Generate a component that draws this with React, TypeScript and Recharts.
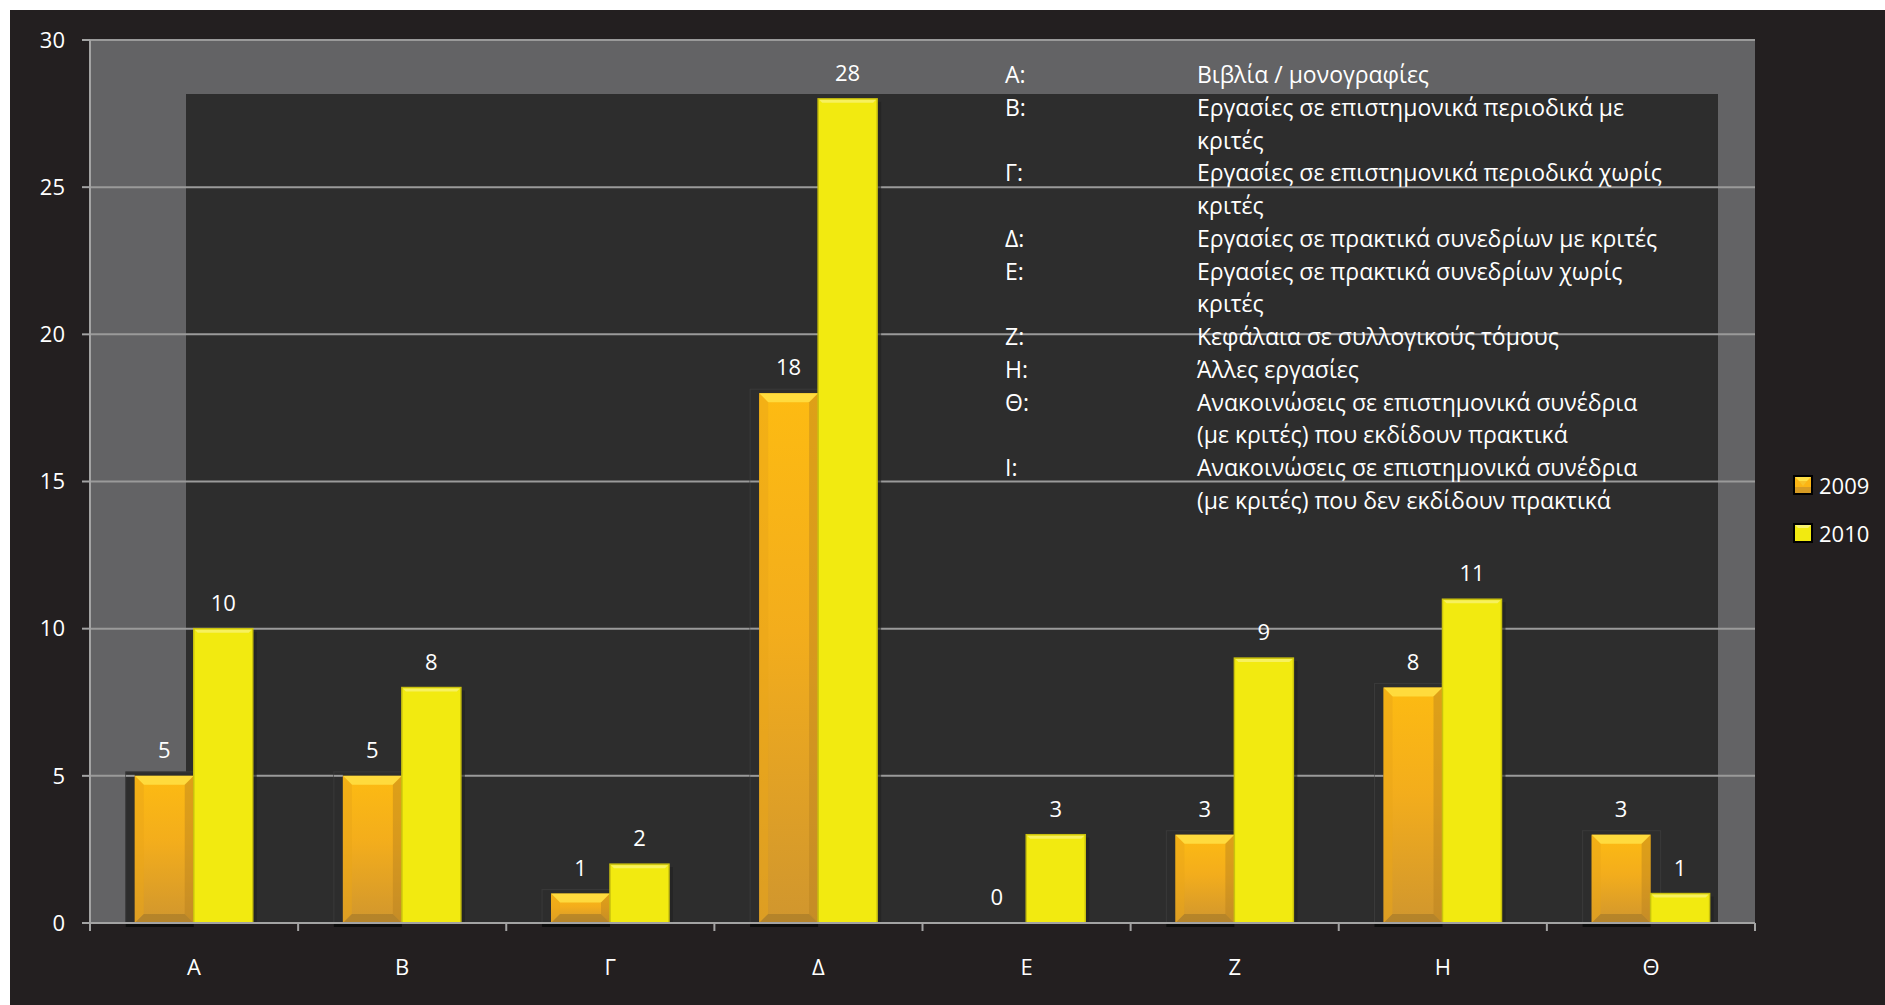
import { BarChart, Bar, XAxis, YAxis, CartesianGrid, LabelList, Legend } from "recharts";

// κατηγορίες δημοσιεύσεων και πλήθος ανά έτος
const categories = ["Α", "Β", "Γ", "Δ", "Ε", "Ζ", "Η", "Θ"];
const values2009 = [5, 5, 1, 18, 0, 3, 8, 3];
const values2010 = [10, 8, 2, 28, 3, 9, 11, 1];
const seriesNames = ["2009", "2010"];
const yTicks = [0, 5, 10, 15, 20, 25, 30];

const noteKeys = ["Α:", "Β:", "Γ:", "Δ:", "Ε:", "Ζ:", "Η:", "Θ:", "Ι:"];
const noteLines = [
  ["Βιβλία / μονογραφίες"],
  ["Εργασίες σε επιστημονικά περιοδικά με", "κριτές"],
  ["Εργασίες σε επιστημονικά περιοδικά χωρίς", "κριτές"],
  ["Εργασίες σε πρακτικά συνεδρίων με κριτές"],
  ["Εργασίες σε πρακτικά συνεδρίων χωρίς", "κριτές"],
  ["Κεφάλαια σε συλλογικούς τόμους"],
  ["Άλλες εργασίες"],
  ["Ανακοινώσεις σε επιστημονικά συνέδρια", "(με κριτές) που εκδίδουν πρακτικά"],
  ["Ανακοινώσεις σε επιστημονικά συνέδρια", "(με κριτές) που δεν εκδίδουν πρακτικά"],
];

const data = categories.map((c, i) => ({
  name: c,
  y2009: values2009[i],
  y2010: values2010[i],
}));

const W = 1875;
const H = 995;
const MARGIN = { top: 30, right: 130, bottom: 22, left: 0 };
const Y_AXIS_W = 80;
const X_AXIS_H = 60;
const PLOT_W = W - MARGIN.left - MARGIN.right - Y_AXIS_W;
const BAND = PLOT_W / categories.length;
const X_TICK_SIZE = 8;
const X_TICK_MARGIN = 28;

const BG = "#231f20";
const WALL = "#636365";
const INNER = "#2d2d2d";
const GRID = "#9a9a9a";
const AXIS = "#a3a3a3";
const GOLD = "#fbb515";
const YELLOW = "#f2ea10";
const FONT = "'Open Sans', 'Noto Sans', sans-serif";

function GoldBar(props: any) {
  const { x, y, width, height, value, index } = props;
  if (!height || height <= 0) return null;
  const b = Math.min(9, height / 2);
  const base = y + height;
  const ppu = height / (Array.isArray(value) ? value[1] - value[0] : value);
  const gid = `gold-grad-${index}`;
  const sx = x - 9;
  const sw = width + 19;
  return (
    <g>
      <defs>
        <linearGradient id={gid} x1="0" y1="0" x2="0" y2="1">
          <stop offset="0%" stopColor="#fdbb12" />
          <stop offset="45%" stopColor="#f3ad1c" />
          <stop offset="100%" stopColor="#d0962e" />
        </linearGradient>
      </defs>
      {/* ombre derrière la barre */}
      <rect x={sx} y={y - 4} width={sw} height={height + 4} fill={INNER} stroke="#3a3a3a" strokeWidth={1} />
      {yTicks
        .filter((t) => t > 0 && base - t * ppu >= y - 4)
        .map((t) => (
          <line key={t} x1={sx} x2={x} y1={base - t * ppu} y2={base - t * ppu} stroke={GRID} strokeWidth={2} />
        ))}
      <rect x={sx} y={base + 1} width={sw - 10} height={3} fill="#0c0c0c" />
      <rect x={x} y={y} width={width} height={height} fill={`url(#${gid})`} />
      <polygon
        points={`${x},${y} ${x + width},${y} ${x + width - b},${y + b} ${x + b},${y + b}`}
        fill="#ffe045"
        opacity={0.85}
      />
      <polygon
        points={`${x},${y} ${x + b},${y + b} ${x + b},${base - b} ${x},${base}`}
        fill="#e9a518"
        opacity={0.5}
      />
      <polygon
        points={`${x + width},${y} ${x + width - b},${y + b} ${x + width - b},${base - b} ${x + width},${base}`}
        fill="#b8801e"
        opacity={0.45}
      />
      <polygon
        points={`${x},${base} ${x + b},${base - b} ${x + width - b},${base - b} ${x + width},${base}`}
        fill="#9c7428"
        opacity={0.55}
      />
    </g>
  );
}

function YellowBar(props: any) {
  const { x, y, width, height } = props;
  if (!height || height <= 0) return null;
  const b = Math.min(4, height / 2);
  return (
    <g>
      <rect x={x + width} y={y + 3} width={4} height={height - 3} fill="#1f1f1f" opacity={0.6} />
      <rect x={x} y={y} width={width} height={height} fill={YELLOW} stroke="#c9c10e" strokeWidth={1.5} />
      <polygon
        points={`${x + 1},${y + 1} ${x + width - 1},${y + 1} ${x + width - b},${y + b} ${x + b},${y + b}`}
        fill="#f8f272"
        opacity={0.8}
      />
    </g>
  );
}

function XTick(props: any) {
  const { x, y, payload, index } = props;
  const axisY = y - X_TICK_SIZE - X_TICK_MARGIN;
  const last = index === categories.length - 1;
  return (
    <g>
      <line x1={x - BAND / 2} x2={x - BAND / 2} y1={axisY} y2={axisY + 8} stroke={AXIS} strokeWidth={2} />
      {last && (
        <line x1={x + BAND / 2} x2={x + BAND / 2} y1={axisY} y2={axisY + 8} stroke={AXIS} strokeWidth={2} />
      )}
      <text x={x} y={y} dy="0.71em" textAnchor="middle" fill="#ffffff" fontSize={22}>
        {payload.value}
      </text>
    </g>
  );
}

function LegendIcon({ color, gold }: { color: string; gold: boolean }) {
  return (
    <svg width={20} height={20} style={{ display: "block" }}>
      <rect x={1} y={1} width={18} height={18} fill={color} stroke="#000" strokeWidth={2} />
      {gold ? (
        <>
          <polygon points="2,2 18,2 14,6 6,6" fill="#ffe045" />
          <polygon points="6,6 14,6 10,11" fill="#f7c22a" />
          <rect x={2} y={12} width={16} height={6} fill="#c8902a" opacity={0.7} />
        </>
      ) : (
        <polygon points="2,2 18,2 15,5 5,5" fill="#f8f272" />
      )}
    </svg>
  );
}

function LegendBox() {
  const colors = [GOLD, YELLOW];
  return (
    <div style={{ fontFamily: FONT }}>
      {seriesNames.map((s, i) => (
        <div key={s} style={{ display: "flex", alignItems: "center", height: 48, gap: 6 }}>
          <LegendIcon color={colors[i]} gold={i === 0} />
          <span style={{ color: "#fff", fontSize: 22 }}>{s}</span>
        </div>
      ))}
    </div>
  );
}

export default function App() {
  return (
    <div
      style={{
        position: "absolute",
        left: 10,
        top: 10,
        width: W,
        height: H,
        background: BG,
        fontFamily: FONT,
        overflow: "hidden",
      }}
    >
      <div style={{ position: "absolute", left: 80, top: 30, width: 1665, height: 883, background: WALL }} />
      <div style={{ position: "absolute", left: 176, top: 84, width: 1532, height: 829, background: INNER }} />
      <BarChart
        width={W}
        height={H}
        data={data}
        margin={MARGIN}
        barCategoryGap="21.5%"
        barGap={0}
      >
        <CartesianGrid vertical={false} stroke={GRID} strokeWidth={2} />
        <XAxis
          dataKey="name"
          height={X_AXIS_H}
          tickLine={false}
          tickSize={X_TICK_SIZE}
          tickMargin={X_TICK_MARGIN}
          axisLine={{ stroke: AXIS, strokeWidth: 2 }}
          tick={<XTick />}
          interval={0}
        />
        <YAxis
          width={Y_AXIS_W}
          domain={[0, 30]}
          ticks={yTicks}
          interval={0}
          tickSize={8}
          tickMargin={17}
          axisLine={{ stroke: AXIS, strokeWidth: 2 }}
          tickLine={{ stroke: AXIS, strokeWidth: 2 }}
          tick={{ fill: "#ffffff", fontSize: 22 }}
        />
        <Legend
          layout="vertical"
          align="center"
          verticalAlign="middle"
          wrapperStyle={{ left: 1783, top: 451, width: 100, height: 96 }}
          content={() => <LegendBox />}
        />
        <Bar dataKey="y2009" name={seriesNames[0]} fill={GOLD} shape={<GoldBar />} isAnimationActive={false}>
          <LabelList dataKey="y2009" position="top" offset={18} fill="#ffffff" fontSize={22} />
        </Bar>
        <Bar dataKey="y2010" name={seriesNames[1]} fill={YELLOW} shape={<YellowBar />} isAnimationActive={false}>
          <LabelList dataKey="y2010" position="top" offset={18} fill="#ffffff" fontSize={22} />
        </Bar>
      </BarChart>
      <div
        style={{
          position: "absolute",
          left: 995,
          top: 48,
          color: "#ffffff",
          fontSize: 23,
          lineHeight: "32.75px",
          pointerEvents: "none",
        }}
      >
        {noteKeys.map((k, i) => (
          <div key={k} style={{ display: "flex" }}>
            <div style={{ width: 192 }}>{k}</div>
            <div>
              {noteLines[i].map((l) => (
                <div key={l} style={{ whiteSpace: "nowrap" }}>
                  {l}
                </div>
              ))}
            </div>
          </div>
        ))}
      </div>
    </div>
  );
}
